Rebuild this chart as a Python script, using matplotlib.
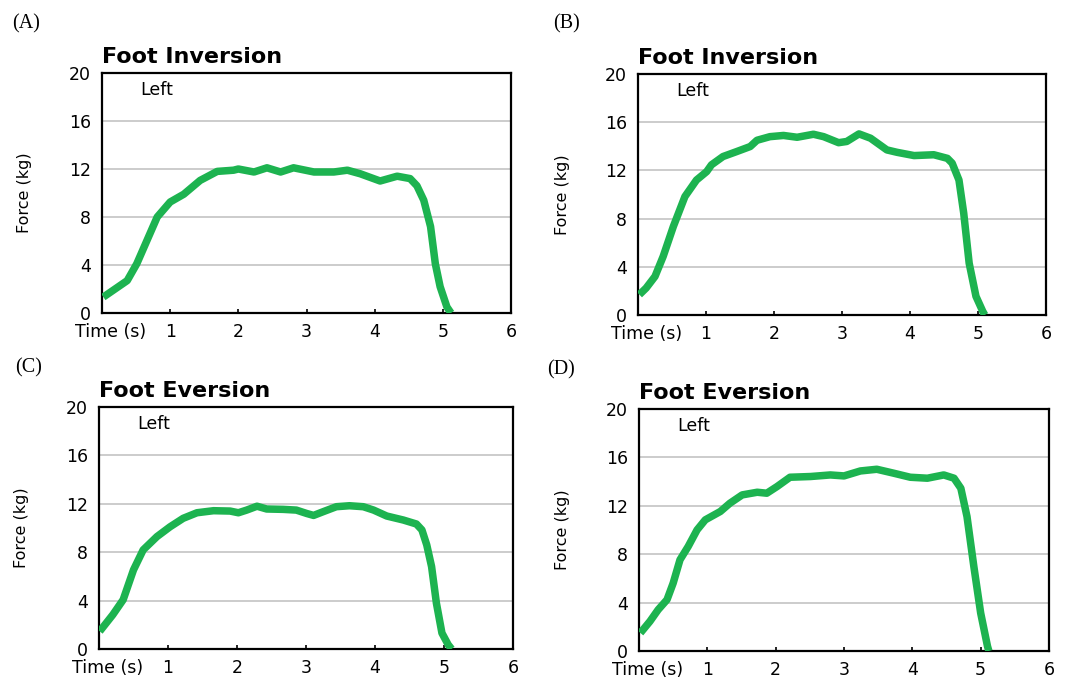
import matplotlib
matplotlib.use("Agg")
import matplotlib.pyplot as plt
import matplotlib.transforms as mtransforms

# ---------------- data ----------------
time_A = [0.02, 0.37, 0.51, 0.66, 0.81, 1.0, 1.2, 1.44, 1.69, 1.93, 2.0, 2.23, 2.42, 2.62, 2.81,
          3.11, 3.4, 3.6, 3.79, 4.08, 4.33, 4.52, 4.62, 4.72, 4.82, 4.89, 4.96, 5.06, 5.12]
force_A = [1.33, 2.7, 4.1, 6.05, 8.0, 9.25, 9.9, 11.05, 11.8, 11.9, 12.0, 11.75, 12.1, 11.75, 12.1,
           11.75, 11.75, 11.9, 11.6, 11.0, 11.4, 11.2, 10.6, 9.4, 7.2, 4.1, 2.2, 0.5, 0.0]

time_B = [0.02, 0.12, 0.25, 0.37, 0.52, 0.69, 0.86, 1.01, 1.08, 1.25, 1.45, 1.65, 1.75, 1.94, 2.14,
          2.34, 2.58, 2.73, 2.95, 3.07, 3.25, 3.42, 3.66, 3.81, 4.06, 4.35, 4.55, 4.62, 4.72, 4.79,
          4.87, 4.97, 5.07, 5.1]
force_B = [1.69, 2.24, 3.2, 4.86, 7.35, 9.83, 11.2, 11.9, 12.46, 13.15, 13.56, 13.98, 14.5, 14.8, 14.9,
           14.75, 15.0, 14.8, 14.3, 14.4, 15.03, 14.67, 13.7, 13.5, 13.23, 13.3, 13.0, 12.6, 11.2, 8.45,
           4.3, 1.55, 0.3, 0.0]

time_C = [0.01, 0.2, 0.35, 0.5, 0.64, 0.84, 1.03, 1.22, 1.42, 1.66, 1.9, 2.02, 2.14, 2.29, 2.43,
          2.67, 2.86, 3.01, 3.11, 3.25, 3.44, 3.63, 3.83, 3.98, 4.17, 4.41, 4.6, 4.68, 4.75, 4.82,
          4.89, 4.97, 5.06, 5.11]
force_C = [1.46, 2.83, 4.07, 6.54, 8.19, 9.29, 10.1, 10.8, 11.26, 11.43, 11.4, 11.26, 11.48, 11.8, 11.57,
           11.54, 11.48, 11.2, 11.04, 11.35, 11.76, 11.84, 11.76, 11.48, 10.99, 10.66, 10.33, 9.84, 8.6, 6.81,
           3.79, 1.32, 0.36, 0.0]

time_D = [0.02, 0.16, 0.28, 0.41, 0.5, 0.6, 0.72, 0.85, 0.97, 1.19, 1.33, 1.51, 1.73, 1.87, 2.02,
          2.21, 2.51, 2.8, 3.0, 3.24, 3.48, 3.73, 3.97, 4.22, 4.46, 4.61, 4.71, 4.8, 4.9, 5.0,
          5.1, 5.12]
force_D = [1.49, 2.45, 3.41, 4.24, 5.61, 7.54, 8.64, 10.01, 10.84, 11.53, 12.21, 12.9, 13.12, 13.04, 13.59,
           14.36, 14.42, 14.55, 14.47, 14.88, 15.02, 14.69, 14.36, 14.28, 14.55, 14.28, 13.45, 11.11, 6.99, 3.14,
           0.39, 0.0]

panel_letters = ["(A)", "(B)", "(C)", "(D)"]
panel_titles = ["Foot Inversion", "Foot Inversion", "Foot Eversion", "Foot Eversion"]
side_label = "Left"
y_label = "Force (kg)"
x_ticks = [0, 1, 2, 3, 4, 5, 6]
x_tick_labels = ["Time (s)", "1", "2", "3", "4", "5", "6"]
y_ticks = [0, 4, 8, 12, 16, 20]
y_tick_labels = ["0", "4", "8", "12", "16", "20"]

series = [(time_A, force_A), (time_B, force_B), (time_C, force_C), (time_D, force_D)]

# ---------------- layout ----------------
W, H = 1067, 679
fig = plt.figure(figsize=(W / 100, H / 100), dpi=100)
fig.patch.set_facecolor("white")

# axes boxes in pixels: left, top, right, bottom
boxes = [(102, 73, 511, 313), (638, 74, 1046, 315), (99, 407, 513, 649), (639, 409, 1049, 651)]
letter_pos = [(12, 24), (553, 24), (15, 368), (547, 370)]
ylabel_x = [25, 563, 22, 563]

green = "#1db350"
plt.rcParams["font.family"] = ["DejaVu Sans"]

for i, (l, t, r, b) in enumerate(boxes):
    ax = fig.add_axes([l / W, 1 - b / H, (r - l) / W, (b - t) / H])
    xs, ys = series[i]
    ax.plot(xs, ys, color=green, lw=5.4, solid_capstyle="butt", solid_joinstyle="round", zorder=3)
    ax.set_xlim(0, 6)
    ax.set_ylim(0, 20)
    ax.set_xticks(x_ticks)
    ax.set_xticklabels(x_tick_labels, fontsize=12.5)
    ax.set_yticks(y_ticks)
    ax.set_yticklabels(y_tick_labels, fontsize=12.5)
    ax.tick_params(axis="x", direction="in", length=3, width=1.2, pad=7)
    ax.tick_params(axis="y", length=0, pad=8)
    # shift "Time (s)" label to the right a bit
    lab0 = ax.get_xticklabels()[0]
    lab0.set_transform(lab0.get_transform() + mtransforms.ScaledTranslation(9 / 100, 0, fig.dpi_scale_trans))
    ax.grid(axis="y", color="#c4c4c4", lw=1.2)
    ax.set_axisbelow(True)
    for s in ax.spines.values():
        s.set_linewidth(1.6)
        s.set_color("black")
    ax.set_title(panel_titles[i], loc="left", fontsize=16, fontweight="bold", pad=7)
    ax.text(0.093, 0.93, side_label, transform=ax.transAxes, fontsize=12.5, va="center", ha="left")
    fig.text(ylabel_x[i] / W, 1 - ((t + b) / 2) / H, y_label, rotation=90, fontsize=11.5,
             ha="center", va="center")
    fig.text(letter_pos[i][0] / W, 1 - letter_pos[i][1] / H, panel_letters[i],
             family="Liberation Serif", fontsize=14.5, ha="left", va="center")

fig.savefig("out.png", dpi=100)
